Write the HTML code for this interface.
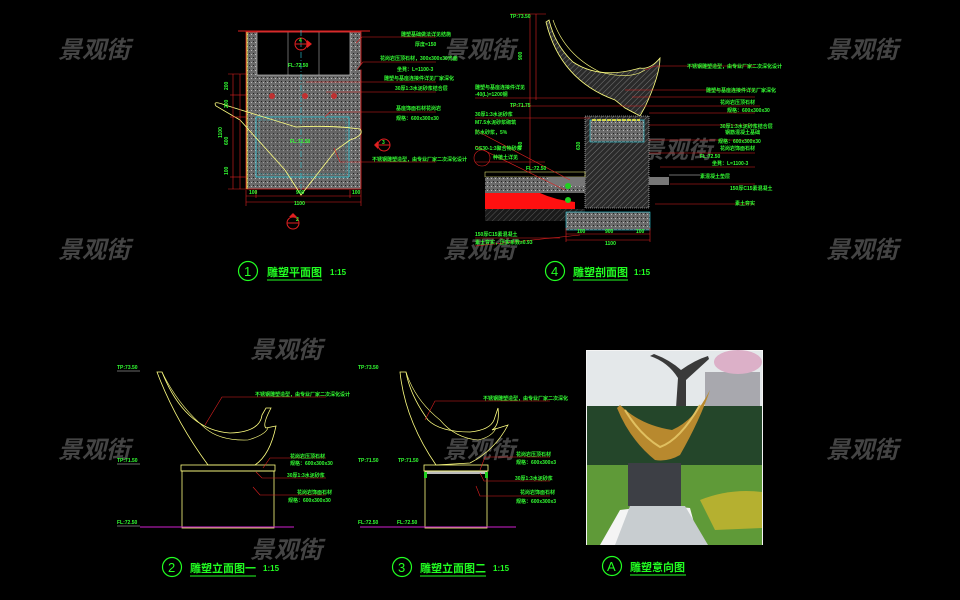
<!DOCTYPE html>
<html><head><meta charset="utf-8"><style>
html,body{margin:0;padding:0;background:#000;width:960px;height:600px;overflow:hidden}
svg{display:block}
.wm{font-family:"Liberation Sans","Noto Sans CJK SC",sans-serif;font-style:italic;font-weight:bold;font-size:24px;fill:#444}
.lab{font-family:"Liberation Sans","Noto Sans CJK SC",sans-serif;font-size:5px;fill:#33ff33;font-weight:bold}
.tt{font-family:"Liberation Sans","Noto Sans CJK SC",sans-serif;font-size:11px;fill:#22ff22;font-weight:bold}
.cn{font-family:"Liberation Sans",sans-serif;font-size:13px;fill:#22ff22}
.sc{font-family:"Liberation Sans",sans-serif;font-size:8px;fill:#22ff22;font-weight:bold}
</style></head><body>
<svg width="960" height="600" viewBox="0 0 960 600" xmlns="http://www.w3.org/2000/svg">
<defs>
<pattern id="dots" width="4" height="4" patternUnits="userSpaceOnUse"><rect width="4" height="4" fill="#6a6a6a"/><rect x="1" y="1" width="1" height="1" fill="#222"/><rect x="3" y="2" width="1" height="1" fill="#bbb"/></pattern>
<pattern id="hatch" width="4" height="4" patternUnits="userSpaceOnUse" patternTransform="rotate(45)"><rect width="4" height="4" fill="#2a2a2a"/><line x1="0" y1="0" x2="0" y2="4" stroke="#777" stroke-width="1"/></pattern>
<pattern id="hatchy" width="4" height="4" patternUnits="userSpaceOnUse" patternTransform="rotate(45)"><rect width="4" height="4" fill="#1a1a1a"/><line x1="0" y1="0" x2="0" y2="4" stroke="#555" stroke-width="1"/></pattern>
</defs>

<g class="wm">
<text x="58" y="58">景观街</text><text x="443" y="58">景观街</text><text x="826" y="58">景观街</text>
<text x="58" y="258">景观街</text><text x="443" y="258">景观街</text><text x="826" y="258">景观街</text>
<text x="250" y="358">景观街</text>
<text x="58" y="458">景观街</text><text x="443" y="458">景观街</text><text x="826" y="458">景观街</text>
<text x="250" y="558">景观街</text>
<text x="258" y="158">景观街</text><text x="640" y="158">景观街</text>
</g>

<!-- ===== Plan 1 ===== -->
<g>
<line x1="238" y1="31" x2="370" y2="31" stroke="#e02020" stroke-width="1"/>
<rect x="246" y="32" width="115" height="157" fill="url(#dots)"/>
<rect x="257" y="32" width="93" height="43" fill="#000" stroke="#ddd" stroke-width="0.6"/>
<line x1="288" y1="32" x2="288" y2="75" stroke="#ccc" stroke-width="0.5"/>
<line x1="319" y1="32" x2="319" y2="75" stroke="#ccc" stroke-width="0.5"/>
<rect x="246" y="32" width="115" height="157" fill="none" stroke="#e02020" stroke-width="0.8"/>
<line x1="247" y1="32" x2="247" y2="189" stroke="#ffff40" stroke-width="0.8"/>
<rect x="256" y="117" width="93" height="60" fill="#555" fill-opacity="0.3" stroke="#30d0e0" stroke-width="0.8"/>
<rect x="259" y="120" width="87" height="54" fill="none" stroke="#30d0e0" stroke-width="0.4" stroke-dasharray="3 1"/>
<line x1="301" y1="30" x2="301" y2="195" stroke="#30d0e0" stroke-width="0.6" stroke-dasharray="6 2 1 2"/>
<circle cx="272" cy="96" r="3" fill="#c03030"/><circle cx="305" cy="96" r="3" fill="#c03030"/><circle cx="334" cy="96" r="3" fill="#c03030"/>
<path d="M216 106 Q212 100 225 105 L296 127 Q330 125 360 129 Q365 135 350 140 L336 150 L301 195 L285 170 L240 120 Z" fill="none" stroke="#ffff80" stroke-width="0.8"/>
<circle cx="301" cy="44" r="6" fill="none" stroke="#e02020"/><line x1="295" y1="44" x2="307" y2="44" stroke="#e02020"/><polygon points="307,40 312,44 307,48" fill="#e02020"/>
<circle cx="384" cy="145" r="6" fill="none" stroke="#e02020"/><line x1="378" y1="145" x2="390" y2="145" stroke="#e02020"/><polygon points="378,141 374,145 378,149" fill="#e02020"/>
<circle cx="293" cy="223" r="6" fill="none" stroke="#e02020"/><line x1="287" y1="223" x2="299" y2="223" stroke="#e02020"/><polygon points="289,217 293,213 297,217" fill="#e02020"/>
<g stroke="#e02020" stroke-width="0.6">
<line x1="233" y1="74" x2="233" y2="189"/><line x1="240" y1="74" x2="240" y2="189"/>
<line x1="228" y1="74" x2="246" y2="74"/><line x1="228" y1="189" x2="246" y2="189"/><line x1="230" y1="117" x2="246" y2="117"/><line x1="230" y1="177" x2="246" y2="177"/><line x1="230" y1="95" x2="246" y2="95"/>
<line x1="246" y1="196" x2="361" y2="196"/><line x1="246" y1="202" x2="361" y2="202"/>
<line x1="246" y1="190" x2="246" y2="206"/><line x1="361" y1="190" x2="361" y2="206"/><line x1="256" y1="190" x2="256" y2="198"/><line x1="350" y1="190" x2="350" y2="198"/>
<polyline points="356,43 362,37 436,37" fill="none"/><polyline points="357,70 363,62 436,62"/><line x1="306" y1="82" x2="436" y2="82"/><line x1="326" y1="92" x2="436" y2="92"/><polyline points="325,117 330,112 436,112" fill="none"/><polyline points="334,148 340,162 436,162" fill="none"/>
</g>
<g class="lab">
<text x="401" y="36">雕塑基础做法详见结施</text><text x="415" y="46">厚度=150</text>
<text x="380" y="60">花岗岩压顶石材，300x300x30光面</text><text x="397" y="71">坐凳：L=1100-3</text>
<text x="384" y="80">雕塑与基座连接件详见厂家深化</text><text x="395" y="90">30厚1:3水泥砂浆结合层</text>
<text x="396" y="110">基座饰面石材花岗岩</text><text x="396" y="120">规格：600x300x30</text>
<text x="372" y="161">不锈钢雕塑造型，由专业厂家二次深化设计</text>
<text x="288" y="67">FL:72.50</text><text x="290" y="143">FL:72.50</text>
<text x="228" y="175" transform="rotate(-90 228 175)">100</text><text x="228" y="145" transform="rotate(-90 228 145)">600</text><text x="228" y="108" transform="rotate(-90 228 108)">200</text><text x="228" y="90" transform="rotate(-90 228 90)">200</text>
<text x="222" y="138" transform="rotate(-90 222 138)">1100</text>
<text x="249" y="194">100</text><text x="296" y="194">900</text><text x="352" y="194">100</text><text x="294" y="205">1100</text>
<text x="296" y="221">2</text><text x="299" y="42">4</text><text x="382" y="144">3</text>
</g>
<circle cx="248" cy="271" r="9.5" fill="none" stroke="#22ff22" stroke-width="1.2"/>
<text x="244" y="276" class="cn">1</text>
<text x="267" y="276" class="tt">雕塑平面图</text><line x1="267" y1="280" x2="322" y2="280" stroke="#22ff22" stroke-width="1"/>
<text x="330" y="275" class="sc">1:15</text>
</g>

<!-- ===== Section 4 ===== -->
<g>
<path d="M546 22 Q560 80 615 100 L625 108 L640 116 L645 107 Q660 75 660 58 Q650 70 640 68 Q600 80 573 62 Q555 45 549 20 Z" fill="url(#hatch)" stroke="#ffff80" stroke-width="0.8"/>
<path d="M553 20 Q565 55 600 72 Q630 80 645 70" fill="none" stroke="#ffff80" stroke-width="0.6"/>
<rect x="585" y="116" width="64" height="92" fill="url(#hatch)" stroke="#ddd" stroke-width="0.6" stroke-dasharray="1 1"/>
<rect x="590" y="120" width="54" height="22" fill="url(#dots)" stroke="#30d0e0" stroke-width="0.6"/>
<line x1="592" y1="120" x2="640" y2="120" stroke="#ffff40" stroke-width="1.5" stroke-dasharray="4 1"/>
<rect x="485" y="172" width="100" height="5" fill="none" stroke="#ffff80" stroke-width="0.5"/>
<rect x="485" y="177" width="100" height="16" fill="url(#dots)"/>
<path d="M485 193 L540 193 Q555 200 575 202 L575 209 L485 209 Z" fill="#ff1010"/>
<rect x="485" y="209" width="100" height="12" fill="url(#hatchy)"/>
<rect x="548" y="177" width="37" height="9" fill="#777"/>
<rect x="649" y="177" width="20" height="8" fill="#777"/>
<rect x="566" y="212" width="84" height="18" fill="url(#dots)" stroke="#30d0e0" stroke-width="0.6"/>
<line x1="669" y1="175" x2="700" y2="175" stroke="#ddd" stroke-width="0.5"/>
<circle cx="568" cy="186" r="3" fill="#20d020"/><circle cx="568" cy="200" r="3" fill="#20d020"/>
<g stroke="#e02020" stroke-width="0.6" fill="none">
<line x1="530" y1="14" x2="530" y2="172"/><line x1="536" y1="14" x2="536" y2="100"/>
<line x1="510" y1="14" x2="546" y2="14"/><line x1="510" y1="106" x2="760" y2="106"/>
<polyline points="645,70 655,66 755,66"/><line x1="625" y1="90" x2="755" y2="90"/><line x1="632" y1="97" x2="755" y2="97"/>
<line x1="649" y1="113" x2="755" y2="113"/><line x1="649" y1="125" x2="755" y2="125"/><line x1="649" y1="140" x2="755" y2="140"/><line x1="649" y1="153" x2="755" y2="153"/><line x1="660" y1="167" x2="755" y2="167"/><line x1="670" y1="184" x2="755" y2="184"/><line x1="655" y1="204" x2="755" y2="204"/>
<line x1="475" y1="98" x2="600" y2="98"/><line x1="475" y1="118" x2="590" y2="118"/><line x1="475" y1="130" x2="570" y2="180"/><line x1="475" y1="146" x2="565" y2="190"/><line x1="475" y1="162" x2="545" y2="162"/>
<line x1="566" y1="234" x2="650" y2="234"/><line x1="566" y1="240" x2="650" y2="240"/><line x1="475" y1="238" x2="560" y2="238"/><line x1="475" y1="246" x2="580" y2="235"/>
<line x1="566" y1="228" x2="566" y2="242"/><line x1="650" y1="228" x2="650" y2="242"/>
<circle cx="482" cy="158" r="8"/>
</g>
<g class="lab">
<text x="510" y="18">TP:73.50</text><text x="510" y="107">TP:71.75</text><text x="526" y="170">FL:72.50</text>
<text x="687" y="68">不锈钢雕塑造型，由专业厂家二次深化设计</text>
<text x="706" y="92">雕塑与基座连接件详见厂家深化</text>
<text x="720" y="104">花岗岩压顶石材</text><text x="727" y="112">规格：600x300x30</text>
<text x="720" y="128">30厚1:3水泥砂浆结合层</text><text x="725" y="134">钢筋混凝土基础</text>
<text x="718" y="143">规格：600x300x30</text><text x="720" y="150">花岗岩饰面石材</text>
<text x="700" y="158">FL:72.50</text><text x="712" y="165">坐凳：L=1100-3</text><text x="700" y="178">素混凝土垫层</text>
<text x="730" y="190">150厚C15素混凝土</text><text x="735" y="205">素土夯实</text>
<text x="475" y="89">雕塑与基座连接件详见</text><text x="475" y="96">-40(L)=1200钢</text>
<text x="475" y="116">30厚1:3水泥砂浆</text><text x="475" y="124">M7.5水泥砂浆砌筑</text><text x="475" y="134">防水砂浆，5%</text>
<text x="475" y="150">GS30-1:3聚合物砂浆</text><text x="493" y="159">种植土详见</text>
<text x="475" y="236">150厚C15素混凝土</text><text x="475" y="244">素土夯实，压实系数≥0.93</text>
<text x="577" y="233">100</text><text x="605" y="233">900</text><text x="636" y="233">100</text><text x="605" y="245">1100</text>
<text x="522" y="60" transform="rotate(-90 522 60)">900</text><text x="522" y="150" transform="rotate(-90 522 150)">450</text><text x="580" y="150" transform="rotate(-90 580 150)">630</text>
</g>
<circle cx="555" cy="271" r="9.5" fill="none" stroke="#22ff22" stroke-width="1.2"/>
<text x="551" y="276" class="cn">4</text>
<text x="573" y="276" class="tt">雕塑剖面图</text><line x1="573" y1="280" x2="628" y2="280" stroke="#22ff22" stroke-width="1"/>
<text x="634" y="275" class="sc">1:15</text>
</g>

<!-- ===== Elevation 2 ===== -->
<g>
<path d="M157 372 L162 372 Q185 430 230 433 Q260 432 262 415 L266 408 L271 408 Q262 425 266 428 L276 426 Q270 455 255 465 L208 465 Q175 420 157 372 Z" fill="none" stroke="#ffff80" stroke-width="0.8"/>
<path d="M162 372 Q178 405 205 428 Q220 441 248 440 Q265 435 268 428" fill="none" stroke="#ffff80" stroke-width="0.6"/>
<rect x="181" y="465" width="94" height="6" fill="none" stroke="#ffff80" stroke-width="0.8"/>
<rect x="182" y="471" width="92" height="57" fill="none" stroke="#ffff80" stroke-width="0.8"/>
<line x1="140" y1="527" x2="294" y2="527" stroke="#d020d0" stroke-width="1"/>
<g stroke="#e02020" stroke-width="0.6" fill="none">
<polyline points="205,425 222,397 326,397"/><polyline points="263,468 270,458 326,458"/><polyline points="256,472 262,478 326,478"/><polyline points="253,487 260,495 326,495"/>
</g>
<g class="lab">
<text x="117" y="369">TP:73.50</text><text x="117" y="462">TP:71.50</text><text x="117" y="524">FL:72.50</text>
<text x="255" y="396">不锈钢雕塑造型，由专业厂家二次深化设计</text>
<text x="290" y="458">花岗岩压顶石材</text><text x="290" y="465">规格：600x300x30</text><text x="287" y="477">30厚1:3水泥砂浆</text>
<text x="297" y="494">花岗岩饰面石材</text><text x="288" y="502">规格：600x300x30</text>
</g>
<g stroke="#d0d0d0" stroke-width="0.5"><line x1="117" y1="371" x2="140" y2="371"/><line x1="117" y1="464" x2="140" y2="464"/><line x1="117" y1="526" x2="140" y2="526"/></g>
<circle cx="172" cy="567" r="9.5" fill="none" stroke="#22ff22" stroke-width="1.2"/>
<text x="168" y="572" class="cn">2</text>
<text x="190" y="572" class="tt">雕塑立面图一</text><line x1="190" y1="576" x2="256" y2="576" stroke="#22ff22" stroke-width="1"/>
<text x="263" y="571" class="sc">1:15</text>
</g>

<!-- ===== Elevation 3 ===== -->
<g>
<path d="M400 372 L406 372 Q410 395 428 420 Q440 432 470 432 Q490 430 494 420 L498 408 Q500 425 492 430 L508 425 Q495 450 470 463 L436 465 Q405 420 400 372 Z" fill="none" stroke="#ffff80" stroke-width="0.8"/>
<path d="M406 372 Q415 400 440 420 Q455 438 478 440 Q492 437 496 428" fill="none" stroke="#ffff80" stroke-width="0.6"/>
<rect x="424" y="465" width="64" height="6" fill="none" stroke="#ffff80" stroke-width="0.8"/>
<rect x="425" y="471" width="62" height="3" fill="#bbb"/>
<rect x="425" y="471" width="62" height="57" fill="none" stroke="#ffff80" stroke-width="0.8"/>
<rect x="424" y="472" width="3" height="6" fill="#20d020"/><rect x="485" y="472" width="3" height="6" fill="#20d020"/>
<line x1="360" y1="527" x2="516" y2="527" stroke="#d020d0" stroke-width="1"/>
<g stroke="#e02020" stroke-width="0.6" fill="none">
<polyline points="425,420 435,401 550,401"/><polyline points="480,470 485,457 550,457"/><polyline points="480,473 484,481 550,481"/><polyline points="476,486 480,496 550,496"/>
</g>
<g class="lab">
<text x="358" y="369">TP:73.50</text><text x="358" y="462">TP:71.50</text><text x="398" y="462">TP:71.50</text><text x="358" y="524">FL:72.50</text><text x="397" y="524">FL:72.50</text>
<text x="483" y="400">不锈钢雕塑造型，由专业厂家二次深化</text>
<text x="516" y="456">花岗岩压顶石材</text><text x="516" y="464">规格：600x300x3</text><text x="515" y="480">30厚1:3水泥砂浆</text>
<text x="520" y="494">花岗岩饰面石材</text><text x="516" y="503">规格：600x300x3</text>
</g>
<circle cx="402" cy="567" r="9.5" fill="none" stroke="#22ff22" stroke-width="1.2"/>
<text x="398" y="572" class="cn">3</text>
<text x="420" y="572" class="tt">雕塑立面图二</text><line x1="420" y1="576" x2="486" y2="576" stroke="#22ff22" stroke-width="1"/>
<text x="493" y="571" class="sc">1:15</text>
</g>

<!-- ===== Photo A ===== -->
<g>
<rect x="586" y="350" width="177" height="195" fill="#f4f4f4"/>
<rect x="587" y="351" width="175" height="55" fill="#e4e8ea"/>
<rect x="705" y="372" width="55" height="36" fill="#a8a8ae"/>
<ellipse cx="738" cy="362" rx="24" ry="12" fill="#dcb0c8"/>
<path d="M676 408 L678 378 Q668 362 650 356 L654 354 Q670 360 681 370 Q695 360 708 356 L709 359 L686 380 L686 408 Z" fill="#3a3a3a"/>
<rect x="587" y="406" width="175" height="62" fill="#24462a"/>
<path d="M587 465 L762 465 L762 545 L700 545 L690 508 L660 505 L620 510 L600 545 L587 545 Z" fill="#5f9a38"/>
<path d="M700 500 Q730 488 762 492 L762 528 L715 530 Z" fill="#b5b030"/>
<path d="M615 545 L630 506 L685 506 L708 545 Z" fill="#c8cdd0"/>
<rect x="628" y="463" width="53" height="43" fill="#3d3f45"/>
<path d="M617 408 Q630 440 655 460 Q668 462 680 455 Q700 420 710 390 Q695 420 672 430 Q640 425 620 405 Z" fill="#b8892e"/>
<path d="M625 410 Q640 435 660 447 Q680 440 700 405" fill="none" stroke="#e0c060" stroke-width="2"/>
</g>
<circle cx="612" cy="566" r="9.5" fill="none" stroke="#22ff22" stroke-width="1.2"/>
<text x="607" y="571" class="cn">A</text>
<text x="630" y="571" class="tt">雕塑意向图</text><line x1="630" y1="575" x2="686" y2="575" stroke="#22ff22" stroke-width="1"/>
</svg>
</body></html>
